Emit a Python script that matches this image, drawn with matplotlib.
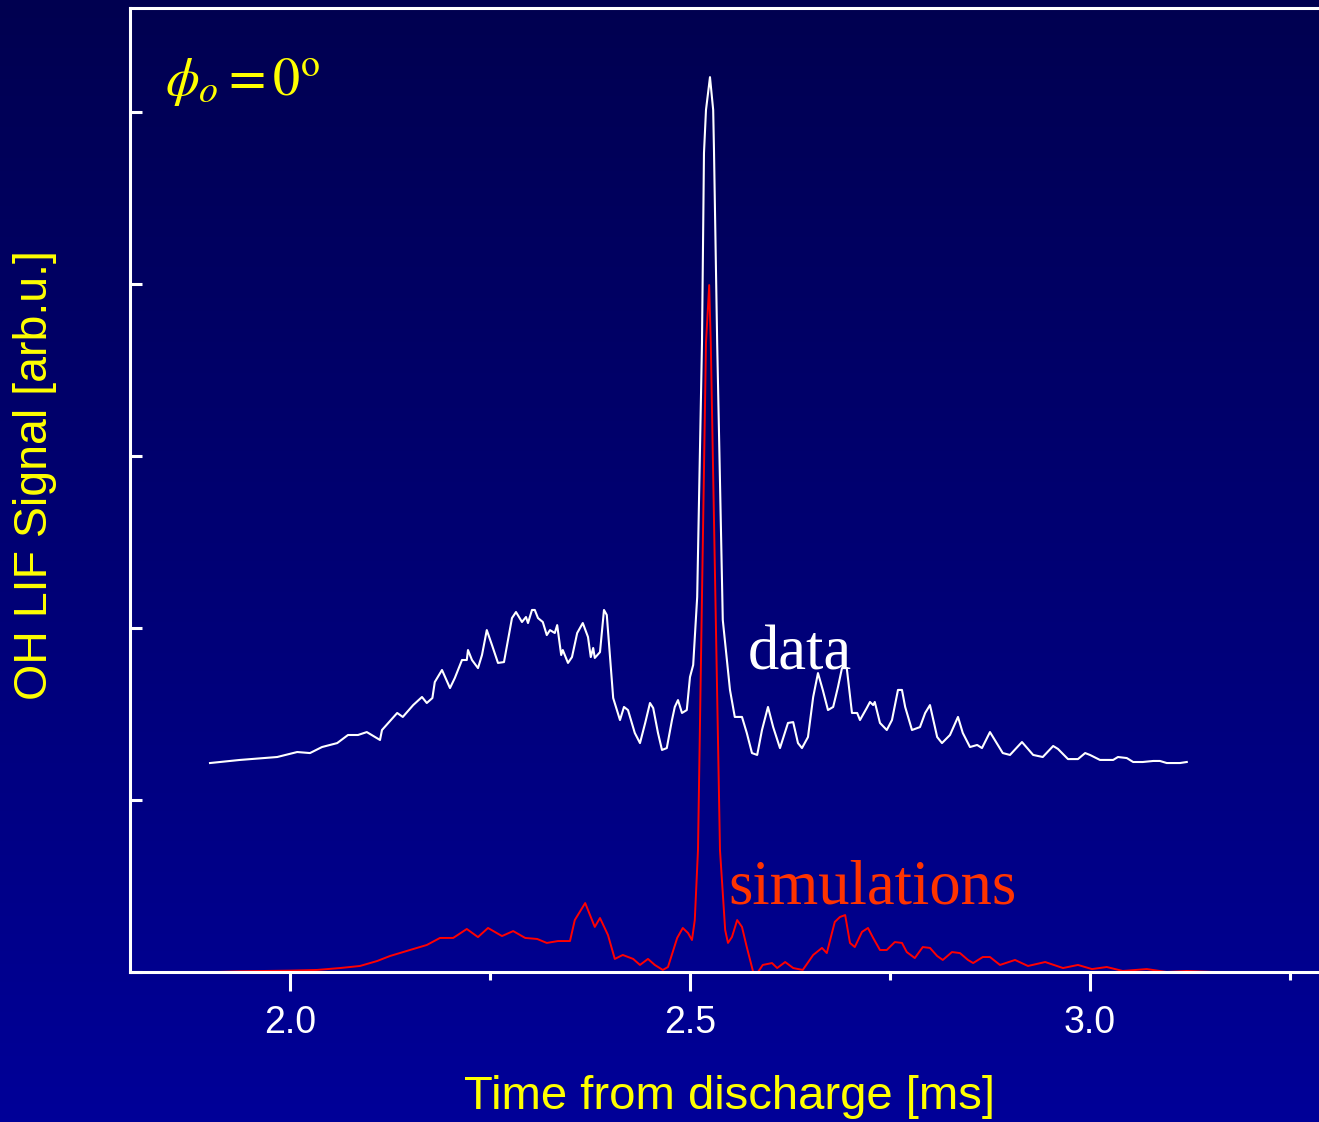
import numpy as np
import matplotlib
matplotlib.use("Agg")
import matplotlib.pyplot as plt
from matplotlib.colors import LinearSegmentedColormap

plt.rcParams['mathtext.fontset'] = 'stix'

# measured OH LIF trace (time in ms, signal in arb. units)
data_t = [1.9, 1.9375, 1.984, 2.009, 2.025, 2.04, 2.059, 2.0725, 2.085, 2.096, 2.1125, 2.115,
          2.134, 2.141, 2.154, 2.165, 2.171, 2.178, 2.181, 2.19, 2.2, 2.206, 2.215, 2.221,
          2.2225, 2.2275, 2.235, 2.24, 2.246, 2.2525, 2.26, 2.2675, 2.2775, 2.2825, 2.29,
          2.295, 2.2975, 2.3025, 2.306, 2.31, 2.316, 2.321, 2.325, 2.331, 2.334, 2.339,
          2.341, 2.3475, 2.3525, 2.359, 2.366, 2.3725, 2.376, 2.379, 2.381, 2.3875, 2.3925,
          2.396, 2.404, 2.4125, 2.4175, 2.4225, 2.431, 2.4375, 2.444, 2.45, 2.454, 2.46,
          2.465, 2.471, 2.4775, 2.481, 2.485, 2.49, 2.496, 2.5, 2.504, 2.509, 2.515, 2.5175,
          2.52, 2.525, 2.529, 2.53, 2.534, 2.54, 2.541, 2.55, 2.556, 2.565, 2.571, 2.5775,
          2.584, 2.59, 2.5975, 2.604, 2.6125, 2.6225, 2.629, 2.635, 2.64, 2.6475, 2.654,
          2.66, 2.666, 2.6725, 2.679, 2.685, 2.69, 2.696, 2.7025, 2.709, 2.7125, 2.721,
          2.725, 2.729, 2.731, 2.7375, 2.746, 2.7525, 2.76, 2.765, 2.769, 2.7775, 2.7875,
          2.794, 2.8, 2.809, 2.815, 2.825, 2.835, 2.841, 2.85, 2.859, 2.865, 2.875, 2.881,
          2.891, 2.9, 2.915, 2.929, 2.941, 2.954, 2.96, 2.9725, 2.985, 2.994, 3.0, 3.0125,
          3.029, 3.035, 3.046, 3.054, 3.066, 3.079, 3.0875, 3.096, 3.1125, 3.121]
data_v = [1.215, 1.233, 1.25, 1.279, 1.273, 1.308, 1.331, 1.378, 1.378, 1.395, 1.349, 1.407,
          1.506, 1.483, 1.552, 1.599, 1.564, 1.593, 1.686, 1.756, 1.651, 1.709, 1.814, 1.814,
          1.872, 1.814, 1.767, 1.843, 1.988, 1.901, 1.797, 1.802, 2.058, 2.093, 2.035,
          2.064, 2.029, 2.105, 2.105, 2.058, 2.035, 1.959, 1.988, 1.971, 2.017, 1.843,
          1.872, 1.797, 1.831, 1.971, 2.029, 1.948, 1.831, 1.884, 1.826, 1.86, 2.105,
          2.076, 1.593, 1.465, 1.541, 1.523, 1.39, 1.331, 1.448, 1.564, 1.535, 1.39,
          1.291, 1.302, 1.465, 1.541, 1.581, 1.506, 1.523, 1.715, 1.785, 2.18, 3.657, 4.762,
          5.012, 5.203, 5.012, 4.779, 3.657, 2.279, 2.047, 1.64, 1.483, 1.483, 1.39, 1.273,
          1.262, 1.407, 1.541, 1.424, 1.302, 1.448, 1.453, 1.331, 1.302, 1.366, 1.599,
          1.738, 1.64, 1.523, 1.541, 1.657, 1.767, 1.767, 1.506, 1.506, 1.465, 1.535,
          1.57, 1.552, 1.57, 1.448, 1.407, 1.465, 1.64, 1.64, 1.541, 1.407, 1.424,
          1.506, 1.552, 1.366, 1.331, 1.378, 1.483, 1.39, 1.308, 1.32, 1.302, 1.395, 1.349,
          1.273, 1.262, 1.337, 1.262, 1.25, 1.314, 1.297, 1.238, 1.238, 1.273, 1.262, 1.233,
          1.233, 1.25, 1.244, 1.221, 1.221, 1.227, 1.227, 1.215, 1.215, 1.221]

# simulated trace
sim_t = [1.909, 1.9375, 2.0, 2.034, 2.0625, 2.0875, 2.109, 2.125, 2.15, 2.171, 2.1875, 2.204,
         2.221, 2.235, 2.2475, 2.265, 2.279, 2.294, 2.309, 2.321, 2.335, 2.35, 2.356, 2.369,
         2.381, 2.3875, 2.3975, 2.406, 2.416, 2.429, 2.4375, 2.4475, 2.456, 2.466, 2.4725,
         2.484, 2.491, 2.4975, 2.5025, 2.506, 2.51, 2.52, 2.524, 2.526, 2.5375, 2.544,
         2.5475, 2.5525, 2.559, 2.565, 2.571, 2.579, 2.585, 2.591, 2.6025, 2.609, 2.619,
         2.629, 2.641, 2.654, 2.665, 2.671, 2.681, 2.6875, 2.694, 2.7, 2.706, 2.715,
         2.7225, 2.729, 2.7375, 2.746, 2.756, 2.765, 2.771, 2.781, 2.791, 2.8, 2.809,
         2.816, 2.8275, 2.8375, 2.8475, 2.854, 2.866, 2.875, 2.8875, 2.9063, 2.9225, 2.944,
         2.9663, 2.985, 3.0025, 3.021, 3.041, 3.071, 3.096, 3.121, 3.154, 3.204, 3.286]
sim_v = [0.0, 0.004, 0.008, 0.012, 0.023, 0.035, 0.064, 0.093, 0.128, 0.157, 0.198, 0.198,
         0.25, 0.203, 0.256, 0.209, 0.238, 0.198, 0.192, 0.169, 0.18, 0.18, 0.302, 0.401,
         0.262, 0.314, 0.215, 0.076, 0.099, 0.076, 0.041, 0.076, 0.041, 0.012, 0.029,
         0.198, 0.256, 0.227, 0.186, 0.302, 0.709, 3.657, 3.994, 3.657, 0.709, 0.244,
         0.169, 0.204, 0.302, 0.262, 0.145, 0.0, 0.0, 0.041, 0.052, 0.023, 0.058,
         0.023, 0.012, 0.099, 0.14, 0.11, 0.291, 0.32, 0.331, 0.169, 0.145, 0.233,
         0.256, 0.198, 0.128, 0.128, 0.174, 0.169, 0.116, 0.081, 0.145, 0.14, 0.093,
         0.07, 0.116, 0.11, 0.07, 0.052, 0.087, 0.087, 0.041, 0.07, 0.035, 0.058,
         0.023, 0.041, 0.017, 0.029, 0.006, 0.017, 0.0, 0.006, 0.0, 0.0, 0.0]

xticks_major = [2.0, 2.5, 3.0]
xticks_minor = [2.25, 2.75, 3.25]
yticks = [0, 1, 2, 3, 4, 5]

fig = plt.figure(figsize=(13.19, 11.22), dpi=100)

# blue gradient background
bg = fig.add_axes([0, 0, 1, 1], zorder=0)
grad = np.linspace(0, 1, 256).reshape(-1, 1)
cmap = LinearSegmentedColormap.from_list('bg', ['#000050', '#000098'])
bg.imshow(grad, aspect='auto', cmap=cmap, extent=[0, 1, 0, 1])
bg.axis('off')

ax = fig.add_axes([130 / 1319, 1 - 972 / 1122, 1 - 130 / 1319, 964 / 1122], zorder=1)
ax.set_facecolor('none')

ax.plot(data_t, data_v, color='white', lw=1.5)
ax.plot(sim_t, sim_v, color='#ff0000', lw=1.4)

ax.set_xlim(1.8, 3.2863)
ax.set_ylim(0, 5.605)

for s in ['left', 'top', 'bottom']:
    ax.spines[s].set_color('white')
    ax.spines[s].set_linewidth(2.2)
ax.spines['right'].set_visible(False)

ax.set_xticks(xticks_major)
ax.set_xticklabels(['2.0', '2.5', '3.0'])
ax.set_xticks(xticks_minor, minor=True)
ax.set_yticks(yticks)
ax.set_yticklabels([])
ax.tick_params(axis='x', which='major', direction='out', length=13.5, width=2.2,
               color='white', labelcolor='white', labelsize=27, pad=10)
ax.tick_params(axis='x', which='minor', direction='out', length=6, width=2.2, color='white')
ax.tick_params(axis='y', which='major', direction='in', length=8.6, width=2.2, color='white')
for lab in ax.get_xticklabels():
    lab.set_family('Liberation Sans')

fig.text(0.5534, 0.0223, 'Time from discharge [ms]', color='#ffff00', fontsize=34,
         family='Liberation Sans', ha='center', va='center')
fig.text(0.0265, 0.5766, 'OH LIF Signal [arb.u.]', color='#ffff00', fontsize=33.5,
         family='Liberation Sans', ha='center', va='center', rotation=90)

ax.text(1.8438, 5.093, r'$\phi_{o} = 0^{\mathrm{o}}$', color='#ffff00', fontsize=39,
        ha='left', va='baseline')
ax.text(2.5725, 1.756, 'data', color='white', fontsize=45, family='Liberation Serif',
        ha='left', va='baseline')
ax.text(2.5475, 0.401, 'simulations', color='#ff3300', fontsize=45, family='Liberation Serif',
        ha='left', va='baseline')

fig.savefig('out.png', dpi=100)
